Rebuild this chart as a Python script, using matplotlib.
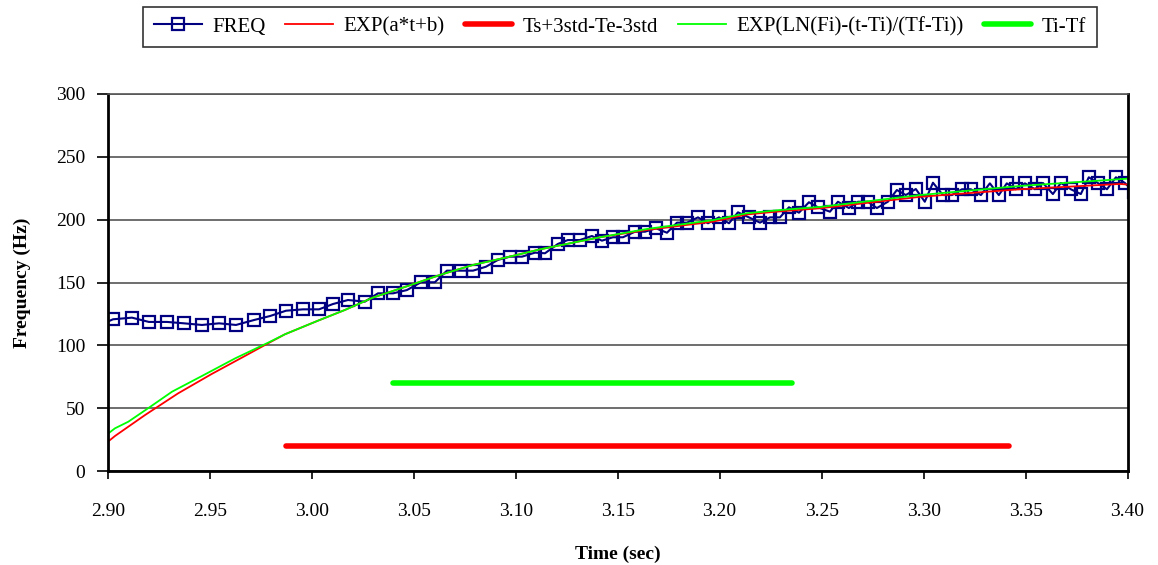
import numpy as np
import matplotlib
matplotlib.use("Agg")
import matplotlib.pyplot as plt

plt.rcParams['font.family'] = ['Liberation Serif', 'DejaVu Serif']

# measured pitch frequency (Hz) at each period time (sec)
freq_t = [2.8973, 2.9026, 2.9119, 2.9202, 2.9291, 2.9374, 2.9462, 2.9546, 2.9629, 2.9717,
          2.9796, 2.9874, 2.9957, 3.0036, 3.0104, 3.0178, 3.0261, 3.0325, 3.0399, 3.0467,
          3.0536, 3.0604, 3.0663, 3.0732, 3.0791, 3.0854, 3.0913, 3.0972, 3.1031, 3.1095,
          3.1144, 3.1207, 3.1256, 3.1315, 3.1374, 3.1423, 3.1477, 3.1526, 3.1585, 3.1634,
          3.1688, 3.1742, 3.1791, 3.1840, 3.1894, 3.1943, 3.1997, 3.2046, 3.2090, 3.2144,
          3.2198, 3.2247, 3.2296, 3.2340, 3.2389, 3.2438, 3.2482, 3.2541, 3.2580, 3.2634,
          3.2678, 3.2727, 3.2771, 3.2825, 3.2869, 3.2913, 3.2962, 3.3006, 3.3046, 3.3095,
          3.3139, 3.3188, 3.3232, 3.3281, 3.3325, 3.3369, 3.3408, 3.3452, 3.3497, 3.3546,
          3.3585, 3.3634, 3.3673, 3.3722, 3.3771, 3.3810, 3.3854, 3.3899, 3.3943, 3.3987,
          3.4030]
freq_f = [117.0, 120.8, 122.1, 118.7, 118.7, 117.6, 116.3, 117.6, 116.3, 120.2,
          123.4, 127.6, 128.7, 128.7, 132.9, 136.1, 134.8, 141.4, 141.4, 144.0,
          150.2, 150.2, 159.4, 159.4, 159.4, 162.5, 167.9, 170.5, 170.5, 173.7,
          173.2, 180.6, 183.7, 183.7, 186.9, 183.2, 185.9, 185.9, 190.3, 190.3,
          193.0, 189.5, 197.5, 197.5, 201.7, 197.0, 201.7, 197.0, 205.7, 201.7,
          197.5, 201.7, 201.7, 209.7, 205.4, 213.7, 209.7, 206.2, 214.1, 209.1,
          214.1, 214.1, 209.1, 214.1, 223.4, 219.4, 224.2, 214.1, 229.2, 219.4,
          219.4, 224.0, 224.0, 219.4, 228.7, 219.4, 228.7, 224.0, 228.7, 224.0,
          229.0, 220.2, 229.0, 224.0, 220.2, 233.5, 229.0, 224.0, 233.5, 229.0,
          222.0]

# EXP(a*t+b) fit
exp_t = [2.8971, 2.9036, 2.9183, 2.9345, 2.9510, 2.9673, 2.9786, 2.9869, 3.0031, 3.0163,
         3.0300, 3.0467, 3.0629, 3.0790, 3.0957, 3.1119, 3.1281, 3.1413, 3.1644, 3.1967,
         3.2134, 3.2296, 3.2492, 3.2982, 3.3472, 3.3962, 3.4060]
exp_f = [19.7, 28.2, 44.8, 62.0, 77.4, 91.7, 101.7, 108.9, 119.7, 128.2,
         138.0, 147.0, 156.0, 163.9, 170.0, 176.3, 181.6, 185.9, 191.7, 198.3,
         204.0, 206.5, 208.9, 218.0, 224.0, 228.2, 227.0]

# EXP(LN(Fi)-(t-Ti)/(Tf-Ti)) fit
ln_t = [2.8971, 2.9036, 2.9101, 2.9209, 2.9315, 2.9462, 2.9625, 2.9786, 2.9869, 3.0031,
        3.0163, 3.0300, 3.0467, 3.0629, 3.0790, 3.0957, 3.1119, 3.1281, 3.1413, 3.1644,
        3.1967, 3.2134, 3.2296, 3.2492, 3.2982, 3.3472, 3.3962, 3.4060]
ln_f = [26.3, 34.3, 39.5, 51.4, 63.3, 75.8, 89.8, 102.2, 108.9, 119.7,
        128.2, 138.0, 147.0, 156.0, 163.9, 170.0, 176.3, 181.6, 185.9, 192.5,
        199.5, 205.0, 207.5, 210.0, 219.4, 226.6, 232.0, 233.0]

# interval markers
ts_te = [2.9873, 3.3420]
ts_te_level = 20
ti_tf = [3.0397, 3.2353]
ti_tf_level = 70

fig = plt.figure(figsize=(11.58, 5.65), dpi=100)
ax = fig.add_axes([0.093, 0.1655, 0.8807, 0.669])

ax.set_axisbelow(True)
ax.yaxis.grid(True, color='#555555', linewidth=1.2)

ax.plot(freq_t, freq_f, color='#000080', linewidth=1.5, marker='s', markersize=8,
        markerfacecolor='none', markeredgecolor='#000080', markeredgewidth=1.6, label='FREQ')
ax.plot(exp_t, exp_f, color='#ff0000', linewidth=1.3, label='EXP(a*t+b)')
ax.plot(ts_te, [ts_te_level, ts_te_level], color='#ff0000', linewidth=4,
        solid_capstyle='round', label='Ts+3std-Te-3std')
ax.plot(ln_t, ln_f, color='#00ff00', linewidth=1.3, label='EXP(LN(Fi)-(t-Ti)/(Tf-Ti))')
ax.plot(ti_tf, [ti_tf_level, ti_tf_level], color='#00ff00', linewidth=4,
        solid_capstyle='round', label='Ti-Tf')

ax.set_xlim(2.90, 3.40)
ax.set_ylim(0, 300)
ax.set_xticks(np.arange(2.90, 3.401, 0.05))
ax.set_xticklabels(['%.2f' % v for v in np.arange(2.90, 3.401, 0.05)])
ax.set_yticks(np.arange(0, 301, 50))

for s in ['left', 'bottom', 'right']:
    ax.spines[s].set_color('black')
    ax.spines[s].set_linewidth(2)
ax.spines['top'].set_color('#555555')
ax.spines['top'].set_linewidth(1.2)

ax.tick_params(axis='x', direction='out', length=6, width=1.2, pad=17, labelsize=14)
ax.tick_params(axis='y', direction='out', length=8, width=1.2, pad=8, labelsize=14)

ax.set_xlabel('Time (sec)', fontsize=14, fontweight='bold', labelpad=18)
ax.set_ylabel('Frequency (Hz)', fontsize=14, fontweight='bold', labelpad=18)

leg = fig.legend(loc='upper center', bbox_to_anchor=(0.5354, 0.988), ncol=5, fontsize=15,
                 frameon=True, fancybox=False, edgecolor='black', handlelength=2.3,
                 columnspacing=0.95, handletextpad=0.5, borderpad=0.5, borderaxespad=0)
leg.get_frame().set_linewidth(1.2)

fig.savefig('out.png', dpi=100)
